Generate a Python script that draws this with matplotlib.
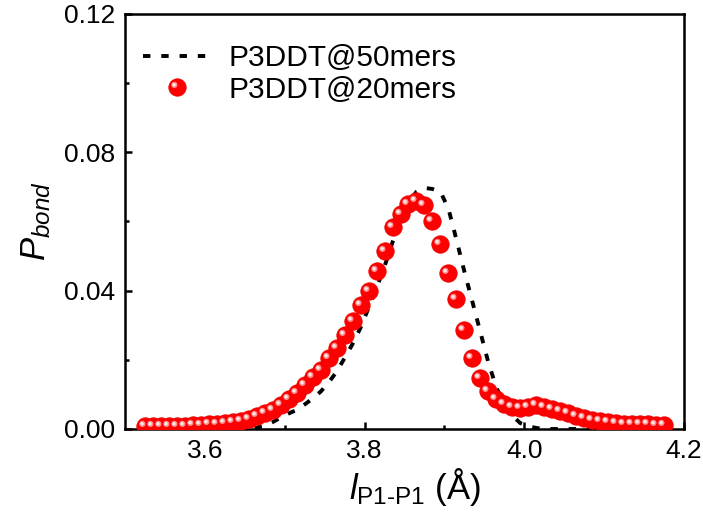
import numpy as np
import matplotlib
matplotlib.use('Agg')
import matplotlib.pyplot as plt
from matplotlib.path import Path
from matplotlib.markers import MarkerStyle
from matplotlib.legend_handler import HandlerTuple

plt.rcParams['font.family'] = ['Liberation Sans', 'DejaVu Sans']
plt.rcParams['mathtext.fontset'] = 'custom'
plt.rcParams['mathtext.rm'] = 'Liberation Sans'
plt.rcParams['mathtext.it'] = 'Liberation Sans:italic'

# ── data ──
x_20mers = [3.525, 3.535, 3.545, 3.555, 3.565, 3.575, 3.585, 3.595, 3.605, 3.615,
            3.625, 3.635, 3.645, 3.655, 3.665, 3.675, 3.685, 3.695, 3.705, 3.715,
            3.725, 3.735, 3.745, 3.755, 3.765, 3.775, 3.785, 3.795, 3.805, 3.815,
            3.825, 3.835, 3.845, 3.855, 3.865, 3.875, 3.885, 3.895, 3.905, 3.915,
            3.925, 3.935, 3.945, 3.955, 3.965, 3.975, 3.985, 3.995, 4.005, 4.015,
            4.025, 4.035, 4.045, 4.055, 4.065, 4.075, 4.085, 4.095, 4.105, 4.115,
            4.125, 4.135, 4.145, 4.155, 4.165, 4.175]
p_20mers = [0.0008, 0.0008, 0.0009, 0.0009, 0.0010, 0.0010, 0.0011, 0.0012, 0.0013, 0.0015,
            0.0017, 0.0019, 0.0023, 0.0030, 0.0037, 0.0046, 0.0056, 0.0069, 0.0086, 0.0103,
            0.0127, 0.0149, 0.0172, 0.0204, 0.0235, 0.0272, 0.0311, 0.0359, 0.0399, 0.0458,
            0.0516, 0.0585, 0.0622, 0.0650, 0.0658, 0.0648, 0.0601, 0.0536, 0.0451, 0.0375,
            0.0285, 0.0206, 0.0147, 0.0111, 0.0087, 0.0071, 0.0065, 0.0062, 0.0064, 0.0068,
            0.0065, 0.0059, 0.0052, 0.0045, 0.0038, 0.0032, 0.0027, 0.0023, 0.0019, 0.0016,
            0.0015, 0.0014, 0.0013, 0.0013, 0.0012, 0.0012]

x_50mers = [3.525, 3.565, 3.605, 3.645, 3.655, 3.665, 3.675, 3.685, 3.695, 3.705,
            3.715, 3.725, 3.735, 3.745, 3.755, 3.765, 3.775, 3.785, 3.795, 3.805,
            3.815, 3.825, 3.835, 3.845, 3.855, 3.865, 3.875, 3.885, 3.895, 3.905,
            3.915, 3.925, 3.935, 3.945, 3.955, 3.965, 3.975, 3.985, 3.995, 4.005,
            4.015, 4.025, 4.065, 4.105, 4.145, 4.185]
p_50mers = [0.0, 0.0, 0.0, 0.0, 0.0001, 0.0004, 0.0009, 0.0020, 0.0033, 0.0045,
            0.0055, 0.0071, 0.0088, 0.0108, 0.0134, 0.0166, 0.0205, 0.0246, 0.0293, 0.0350,
            0.0408, 0.0470, 0.0540, 0.0605, 0.0655, 0.0686, 0.0697, 0.0694, 0.0686, 0.0637,
            0.0548, 0.0455, 0.0368, 0.0280, 0.0192, 0.0120, 0.0070, 0.0038, 0.0017, 0.0008,
            0.0003, 0.0, 0.0, 0.0, 0.0, 0.0]

x_ticks = [3.6, 3.8, 4.0, 4.2]
y_ticks = [0.00, 0.04, 0.08, 0.12]


def spot_marker(cx, cy, r):
    """Off-centre circle used as a highlight on the red spheres."""
    spot = Path.circle((cx, cy), r)
    frame = Path([(-1, -1), (1, 1)], [Path.MOVETO, Path.MOVETO])
    return MarkerStyle(Path.make_compound_path(spot, frame))


fig = plt.figure(figsize=(7.03, 5.14), dpi=100)
ax = fig.add_axes([0.1778, 0.1654, 0.7952, 0.8074])

ax.plot(x_50mers, p_50mers, color='black', lw=2.8, ls=(0, (1.9, 2.8)),
        zorder=2, label='P3DDT@50mers')

ms = 12.5
sphere = ax.plot(x_20mers, p_20mers, ls='none', marker='o', ms=ms,
                 mfc='#ff0000', mec='#f00000', mew=0.6, zorder=3)[0]
glow = ax.plot(x_20mers, p_20mers, ls='none', marker=spot_marker(-0.36, 0.3, 0.36),
               ms=ms, mfc='#ff8a8a', mec='none', zorder=4)[0]
core = ax.plot(x_20mers, p_20mers, ls='none', marker=spot_marker(-0.4, 0.32, 0.2),
               ms=ms, mfc='#ffe8e8', mec='none', zorder=5)[0]

handles, labels = ax.get_legend_handles_labels()
handles.append((sphere, glow, core))
labels.append('P3DDT@20mers')
ax.legend(handles, labels, loc='upper left', bbox_to_anchor=(0.0, 0.97),
          frameon=False, fontsize=21.5, handlelength=2.3, handletextpad=0.55,
          labelspacing=0.12, borderaxespad=0.2, numpoints=1,
          handler_map={tuple: HandlerTuple(ndivide=1, pad=0)})

ax.set_xlim(3.5, 4.2)
ax.set_ylim(0.0, 0.12)
ax.set_xticks(x_ticks)
ax.set_xticklabels(['3.6', '3.8', '4.0', '4.2'])
ax.set_yticks(y_ticks)
ax.set_yticklabels(['0.00', '0.04', '0.08', '0.12'])
ax.set_xticks([3.7, 3.9, 4.1], minor=True)
ax.set_yticks([0.02, 0.06, 0.10], minor=True)
ax.tick_params(which='both', direction='in', width=1.8, labelsize=19,
               top=False, right=False)
ax.tick_params(which='major', length=5, pad=7)
ax.tick_params(which='minor', length=3)
for s in ax.spines.values():
    s.set_linewidth(1.8)

ax.set_xlabel('$\\mathit{l}_{\\mathrm{P1\u2010P1}}$ (Å)', fontsize=25)
ax.xaxis.set_label_coords(0.519, -0.088)
ax.set_ylabel('$\\mathit{P}_{\\mathit{bond}}$', fontsize=25, labelpad=8)

fig.savefig('out.png', dpi=100)
